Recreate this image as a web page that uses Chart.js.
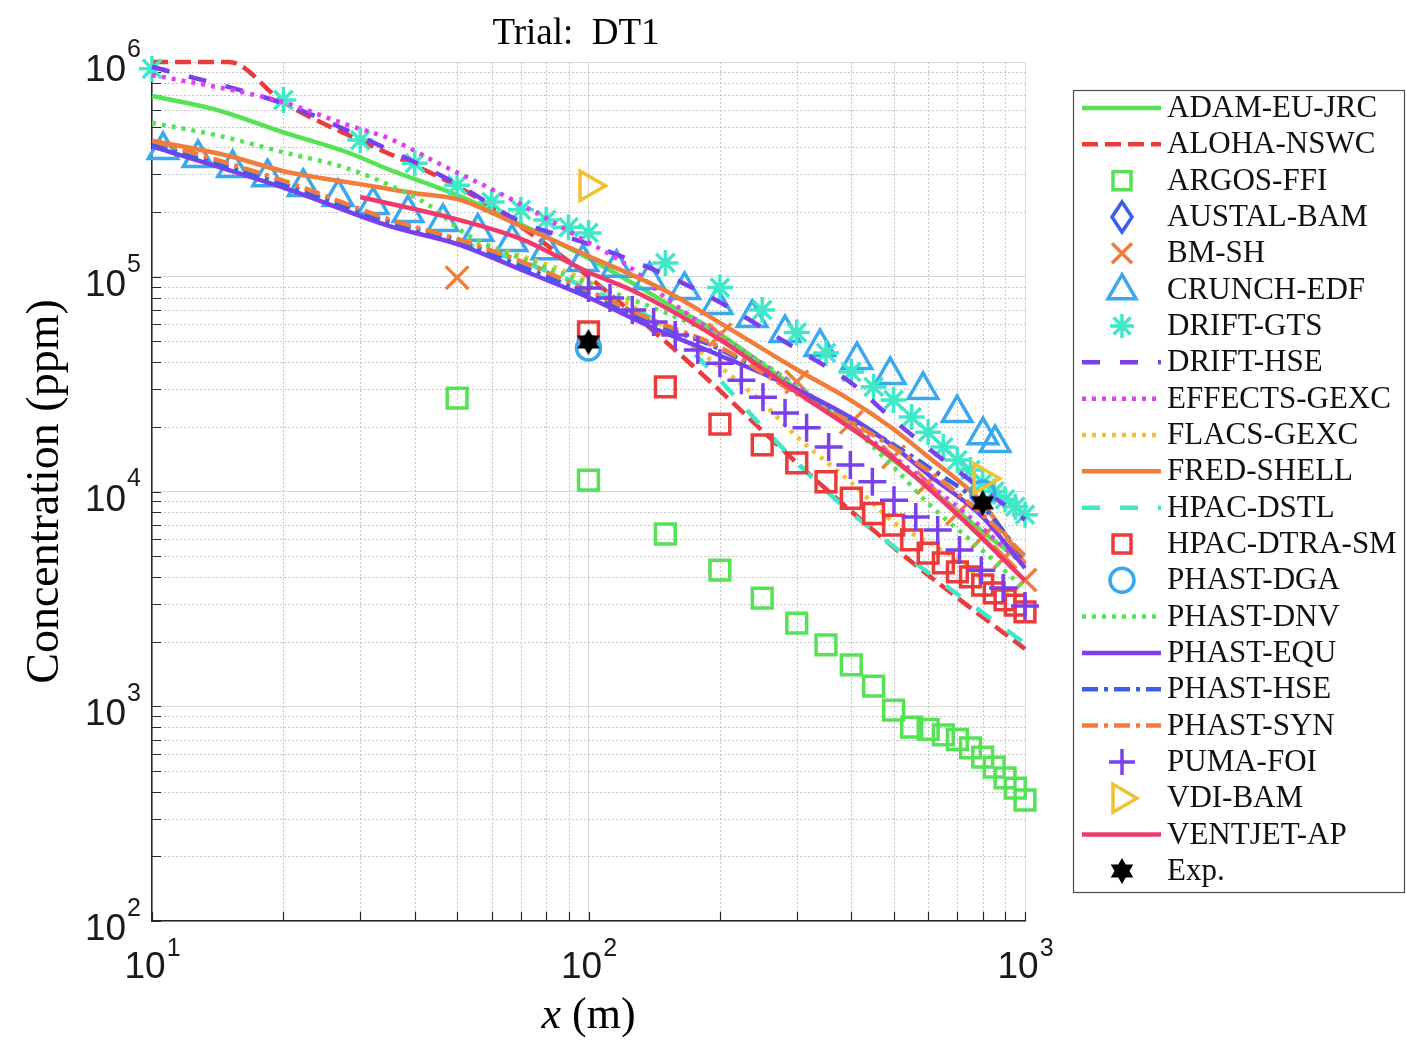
<!DOCTYPE html>
<html>
<head>
<meta charset="utf-8">
<title>Trial: DT1</title>
<script src="https://cdn.jsdelivr.net/npm/chart.js@4.4.1/dist/chart.umd.min.js"></script>
<style>
  html, body { margin: 0; padding: 0; background: #fff; }
  #wrap { width: 1406px; height: 1044px; }
</style>
</head>
<body>
<div id="wrap"><canvas id="chart" width="1406" height="1044"></canvas></div>
<script>
// axis ticks
const xMajor = [10, 100, 1000];
const yMajor = [1e2, 1e3, 1e4, 1e5, 1e6];
const xTickLabels = ['10', '10', '10'];
const xTickExp = ['1', '2', '3'];
const yTickExp = ['2', '3', '4', '5', '6'];

// series (x in m, concentration in ppm)
const adamX = [10, 14, 20, 28, 35, 50, 70, 100, 150, 200, 300, 400, 500, 600, 800, 1000];
const adamY = [6.95e5, 6.0e5, 4.7e5, 3.8e5, 3.15e5, 2.4e5, 1.75e5, 1.22e5, 7.6e4, 5.4e4, 3.0e4, 2.0e4, 1.4e4, 1.05e4, 6.5e3, 4.6e3];

const alohaX = [10, 15, 20, 30, 40, 50, 70, 100, 150, 200, 300, 500, 700, 1000];
const alohaY = [1e6, 1e6, 6.5e5, 4.3e5, 3.3e5, 2.64e5, 1.71e5, 1.0e5, 5.0e4, 2.95e4, 1.36e4, 5.5e3, 3.2e3, 1.85e3];

const argosX = [50, 100, 150, 200, 250, 300, 350, 400, 450, 500, 550, 600, 650, 700, 750, 800, 850, 900, 950, 1000];
const argosY = [2.72e4, 1.13e4, 6.34e3, 4.3e3, 3.19e3, 2.44e3, 1.93e3, 1.56e3, 1.24e3, 960, 800, 780, 735, 700, 640, 580, 521, 464, 416, 366];

const austalX = [];
const austalY = [];

const bmshX = [50, 200, 300, 400, 500, 600, 700, 800, 900, 1000];
const bmshY = [9.9e4, 5.36e4, 3.24e4, 2.1e4, 1.45e4, 1.1e4, 7.9e3, 6.14e3, 4.95e3, 3.87e3];

const crunchX = [10.6, 12.75, 15.3, 18.4, 22.2, 26.7, 32.1, 38.6, 46.4, 55.8, 66.8, 80.3, 97.1, 116, 138, 166, 197, 237, 282, 339, 412, 491, 584, 699, 801, 854];
const crunchY = [3.89e5, 3.57e5, 3.21e5, 2.91e5, 2.62e5, 2.35e5, 2.16e5, 1.98e5, 1.8e5, 1.62e5, 1.45e5, 1.33e5, 1.17e5, 1.1e5, 9.66e4, 8.68e4, 7.39e4, 6.43e4, 5.47e4, 4.71e4, 4.1e4, 3.49e4, 2.97e4, 2.32e4, 1.83e4, 1.68e4];

const driftGtsX = [10, 20, 30, 40, 50, 60, 70, 80, 90, 100, 150, 200, 250, 300, 350, 400, 450, 500, 550, 600, 650, 700, 750, 800, 850, 900, 950, 1000];
const driftGtsY = [9.3e5, 6.65e5, 4.33e5, 3.38e5, 2.67e5, 2.23e5, 2.05e5, 1.84e5, 1.7e5, 1.6e5, 1.16e5, 8.9e4, 7.0e4, 5.5e4, 4.42e4, 3.6e4, 3.07e4, 2.67e4, 2.22e4, 1.89e4, 1.61e4, 1.4e4, 1.26e4, 1.1e4, 1.0e4, 9.2e3, 8.5e3, 7.8e3];

const driftHseX = [10, 20, 30, 50, 70, 100, 150, 200, 300, 400, 500, 700, 1000];
const driftHseY = [9.5e5, 6.4e5, 4.5e5, 2.7e5, 1.8e5, 1.42e5, 1.02e5, 7.6e4, 4.6e4, 3.2e4, 2.15e4, 1.25e4, 7.4e3];

const effectsX = [10, 16, 20, 28, 35, 45, 67, 95, 125, 150, 200, 300, 500, 700, 1000];
const effectsY = [8.7e5, 7.25e5, 6.5e5, 5.1e5, 4.4e5, 3.4e5, 2.28e5, 1.53e5, 1.1e5, 8.0e4, 5.3e4, 3.1e4, 1.45e4, 8.5e3, 4.5e3];

const flacsX = [50, 70, 100, 150, 200, 250, 300, 400, 500, 600, 700, 800, 1000];
const flacsY = [1.5e5, 1.25e5, 9.5e4, 5.8e4, 3.8e4, 2.6e4, 1.8e4, 1.1e4, 7.2e3, 5.8e3, 4.8e3, 3.9e3, 3.0e3];

const fredX = [10, 15, 20, 30, 40, 50, 55, 70, 100, 150, 200, 300, 400, 500, 600, 800, 1000];
const fredY = [4.3e5, 3.65e5, 3.1e5, 2.7e5, 2.45e5, 2.3e5, 2.15e5, 1.72e5, 1.25e5, 8.6e4, 6.1e4, 3.7e4, 2.65e4, 1.95e4, 1.45e4, 8.8e3, 4.6e3];

const hpacDstlX = [50, 70, 100, 150, 200, 250, 370, 565, 1000];
const hpacDstlY = [1.45e5, 1.18e5, 8.8e4, 5.8e4, 3.3e4, 2.0e4, 9.1e3, 4.6e3, 1.96e3];

const hpacDtraX = [100, 150, 200, 250, 300, 350, 400, 450, 500, 550, 600, 650, 700, 750, 800, 850, 900, 950, 1000];
const hpacDtraY = [5.53e4, 3.07e4, 2.06e4, 1.65e4, 1.36e4, 1.11e4, 9.3e3, 7.9e3, 6.98e3, 5.95e3, 5.17e3, 4.65e3, 4.22e3, 4.0e3, 3.67e3, 3.37e3, 3.13e3, 2.96e3, 2.75e3];

const dgaX = [100, 800];
const dgaY = [4.66e4, 9.85e3];

const dnvX = [10, 14, 20, 28, 35, 43, 52, 60, 70, 100, 150, 200, 300, 400, 500, 600, 800, 1000];
const dnvY = [5.2e5, 4.57e5, 3.8e5, 3.2e5, 2.67e5, 2.16e5, 1.6e5, 1.38e5, 1.22e5, 9.3e4, 6.8e4, 5.2e4, 3.1e4, 2.0e4, 1.3e4, 8.8e3, 5.3e3, 3.5e3];

const equX = [10, 20, 35, 50, 70, 100, 140, 200, 280, 400, 500, 600, 800, 1000];
const equY = [4.05e5, 2.6e5, 1.72e5, 1.42e5, 1.08e5, 8.0e4, 5.8e4, 4.3e4, 3.2e4, 2.2e4, 1.62e4, 1.2e4, 7.6e3, 4.4e3];

const hseX = [10, 20, 35, 50, 70, 100, 140, 200, 300, 400, 500, 600, 800, 1000];
const hseY = [4.15e5, 2.7e5, 1.8e5, 1.48e5, 1.12e5, 8.3e4, 6.1e4, 4.6e4, 2.9e4, 2.15e4, 1.65e4, 1.3e4, 8.5e3, 4.8e3];

const synX = [10, 20, 35, 50, 70, 100, 140, 200, 300, 400, 500, 600, 800, 1000];
const synY = [4.3e5, 2.8e5, 1.85e5, 1.5e5, 1.18e5, 8.6e4, 6.3e4, 4.7e4, 2.85e4, 2.1e4, 1.6e4, 1.25e4, 7.8e3, 5.0e3];

const pumaX = [100, 112, 126, 141, 158, 178, 200, 224, 251, 282, 316, 355, 398, 447, 501, 562, 631, 708, 794, 891, 1000];
const pumaY = [8.87e4, 7.96e4, 7.0e4, 6.15e4, 5.35e4, 4.56e4, 3.96e4, 3.3e4, 2.75e4, 2.32e4, 1.98e4, 1.61e4, 1.33e4, 1.11e4, 9.1e3, 7.6e3, 6.62e3, 5.34e3, 4.3e3, 3.55e3, 2.93e3];

const vdiX = [100, 800];
const vdiY = [2.65e5, 1.15e4];

const ventjetX = [30, 50, 70, 100, 125, 150, 200, 300, 500, 700, 1000];
const ventjetY = [2.35e5, 1.85e5, 1.5e5, 1.05e5, 8.7e4, 7.2e4, 5.1e4, 2.9e4, 1.42e4, 7.8e3, 3.85e3];

const expX = [100, 800];
const expY = [4.97e4, 8.84e3];

// colours
const cGreen = '#55e255';
const cRed = '#ec3b3b';
const cBlue = '#3b5ee8';
const cOrange = '#f07d3c';
const cSky = '#3aa8ee';
const cTeal = '#3ee8c8';
const cPurple = '#7a40ee';
const cMagenta = '#e040f0';
const cYellow = '#f0c232';
const cPink = '#f03a6c';

const DOT = [4, 6];
const DASH = [16, 7];
const LONGDASH = [18, 20];
const DASHDOT = [16, 6, 4, 6];

const serif = '"Liberation Serif", "Times New Roman", serif';
const sans = '"Liberation Sans", Arial, sans-serif';

function pts(xs, ys) {
  return xs.map((x, i) => ({ x: x, y: ys[i] }));
}

function hexagramPath(g, cx, cy, r) {
  const ri = r / Math.sqrt(3);
  g.beginPath();
  for (let k = 0; k < 12; k++) {
    const ang = -Math.PI / 2 + k * Math.PI / 6;
    const rr = k % 2 ? ri : r;
    g.lineTo(cx + rr * Math.cos(ang), cy + rr * Math.sin(ang));
  }
  g.closePath();
}

function makeHexagram(r) {
  const c = document.createElement('canvas');
  const s = Math.ceil(r * 2 + 2);
  c.width = s; c.height = s;
  const g = c.getContext('2d');
  g.fillStyle = '#000';
  hexagramPath(g, s / 2, s / 2, r);
  g.fill();
  return c;
}
const hexImg = makeHexagram(13);

// legend order = plotting order (later ones drawn on top)
const entries = [
  { label: 'ADAM-EU-JRC', xs: adamX, ys: adamY, color: cGreen, kind: 'line', dash: [] },
  { label: 'ALOHA-NSWC', xs: alohaX, ys: alohaY, color: cRed, kind: 'line', dash: DASH },
  { label: 'ARGOS-FFI', xs: argosX, ys: argosY, color: cGreen, kind: 'rect', r: 14 },
  { label: 'AUSTAL-BAM', xs: austalX, ys: austalY, color: cBlue, kind: 'rectRot', r: 13 },
  { label: 'BM-SH', xs: bmshX, ys: bmshY, color: cOrange, kind: 'crossRot', r: 16 },
  { label: 'CRUNCH-EDF', xs: crunchX, ys: crunchY, color: cSky, kind: 'triangle', r: 17 },
  { label: 'DRIFT-GTS', xs: driftGtsX, ys: driftGtsY, color: cTeal, kind: 'star', r: 13 },
  { label: 'DRIFT-HSE', xs: driftHseX, ys: driftHseY, color: cPurple, kind: 'line', dash: LONGDASH },
  { label: 'EFFECTS-GEXC', xs: effectsX, ys: effectsY, color: cMagenta, kind: 'line', dash: DOT },
  { label: 'FLACS-GEXC', xs: flacsX, ys: flacsY, color: cYellow, kind: 'line', dash: DOT },
  { label: 'FRED-SHELL', xs: fredX, ys: fredY, color: cOrange, kind: 'line', dash: [] },
  { label: 'HPAC-DSTL', xs: hpacDstlX, ys: hpacDstlY, color: cTeal, kind: 'line', dash: LONGDASH },
  { label: 'HPAC-DTRA-SM', xs: hpacDtraX, ys: hpacDtraY, color: cRed, kind: 'rect', r: 14 },
  { label: 'PHAST-DGA', xs: dgaX, ys: dgaY, color: cSky, kind: 'circle', r: 12 },
  { label: 'PHAST-DNV', xs: dnvX, ys: dnvY, color: cGreen, kind: 'line', dash: DOT },
  { label: 'PHAST-EQU', xs: equX, ys: equY, color: cPurple, kind: 'line', dash: [] },
  { label: 'PHAST-HSE', xs: hseX, ys: hseY, color: cBlue, kind: 'line', dash: DASHDOT },
  { label: 'PHAST-SYN', xs: synX, ys: synY, color: cOrange, kind: 'line', dash: DASHDOT },
  { label: 'PUMA-FOI', xs: pumaX, ys: pumaY, color: cPurple, kind: 'cross', r: 14 },
  { label: 'VDI-BAM', xs: vdiX, ys: vdiY, color: cYellow, kind: 'triangleR', r: 17 },
  { label: 'VENTJET-AP', xs: ventjetX, ys: ventjetY, color: cPink, kind: 'line', dash: [] },
  { label: 'Exp.', xs: expX, ys: expY, color: '#000', kind: 'hexagram', r: 13 }
];

const datasets = entries.map((e, i) => {
  const base = { label: e.label, data: pts(e.xs, e.ys), order: -i, clip: false };
  if (e.kind === 'line') {
    return Object.assign(base, {
      showLine: true, borderColor: e.color, borderWidth: 4.5, borderDash: e.dash,
      borderCapStyle: 'butt', pointRadius: 0, pointHoverRadius: 0,
      cubicInterpolationMode: 'monotone', fill: false
    });
  }
  let style = e.kind, rot = 0;
  if (e.kind === 'triangleR') { style = 'triangle'; rot = 90; }
  if (e.kind === 'hexagram') { style = hexImg; }
  return Object.assign(base, {
    showLine: false, pointStyle: style, pointRotation: rot, pointRadius: e.r,
    pointBorderColor: e.color, pointBackgroundColor: 'rgba(0,0,0,0)',
    pointBorderWidth: 3.5, borderColor: e.color, backgroundColor: 'rgba(0,0,0,0)'
  });
});

function isMajor(v) {
  const l = Math.log10(v);
  return Math.abs(l - Math.round(l)) < 1e-9;
}

function withMinor(majors) {
  const out = [];
  majors.forEach((m, i) => {
    out.push(m);
    if (i < majors.length - 1) for (let k = 2; k <= 9; k++) out.push(m * k);
  });
  return out;
}
const xTicks = withMinor(xMajor);
const yTicks = withMinor(yMajor);

function drawLegendSym(ctx, e, cx, cy) {
  ctx.save();
  ctx.strokeStyle = e.color;
  ctx.fillStyle = e.color;
  ctx.lineWidth = e.kind === 'line' ? 4.5 : 3.5;
  ctx.lineCap = 'butt';
  ctx.setLineDash([]);
  ctx.beginPath();
  switch (e.kind) {
    case 'line':
      ctx.setLineDash(e.dash);
      ctx.moveTo(1082, cy); ctx.lineTo(1161, cy);
      break;
    case 'rect':
      ctx.rect(cx - 9, cy - 9, 18, 18);
      break;
    case 'rectRot':
      ctx.moveTo(cx, cy - 15); ctx.lineTo(cx + 10, cy); ctx.lineTo(cx, cy + 15); ctx.lineTo(cx - 10, cy); ctx.closePath();
      break;
    case 'crossRot':
      ctx.moveTo(cx - 10, cy - 10); ctx.lineTo(cx + 10, cy + 10);
      ctx.moveTo(cx + 10, cy - 10); ctx.lineTo(cx - 10, cy + 10);
      break;
    case 'cross':
      ctx.moveTo(cx - 13, cy); ctx.lineTo(cx + 13, cy);
      ctx.moveTo(cx, cy - 13); ctx.lineTo(cx, cy + 13);
      break;
    case 'triangle':
      ctx.moveTo(cx, cy - 15); ctx.lineTo(cx + 14, cy + 9); ctx.lineTo(cx - 14, cy + 9); ctx.closePath();
      break;
    case 'triangleR':
      ctx.moveTo(cx + 15, cy); ctx.lineTo(cx - 9, cy + 14); ctx.lineTo(cx - 9, cy - 14); ctx.closePath();
      break;
    case 'circle':
      ctx.arc(cx, cy, 12, 0, Math.PI * 2);
      break;
    case 'star':
      for (let k = 0; k < 4; k++) {
        const a = k * Math.PI / 4;
        ctx.moveTo(cx - 12 * Math.cos(a), cy - 12 * Math.sin(a));
        ctx.lineTo(cx + 12 * Math.cos(a), cy + 12 * Math.sin(a));
      }
      break;
    case 'hexagram':
      hexagramPath(ctx, cx, cy, 13);
      ctx.fill();
      ctx.restore();
      return;
  }
  ctx.stroke();
  ctx.restore();
}

const decor = {
  id: 'decor',
  beforeDatasetsDraw(chart) {
    const { ctx, chartArea: a, scales: { x, y } } = chart;
    ctx.save();
    // dotted minor grid
    ctx.strokeStyle = '#c4c4c4';
    ctx.lineWidth = 1;
    ctx.setLineDash([2, 2]);
    ctx.beginPath();
    xTicks.filter(v => !isMajor(v)).forEach(v => {
      const px = Math.round(x.getPixelForValue(v)) + 0.5;
      ctx.moveTo(px, a.top); ctx.lineTo(px, a.bottom);
    });
    yTicks.filter(v => !isMajor(v)).forEach(v => {
      const py = Math.round(y.getPixelForValue(v)) + 0.5;
      ctx.moveTo(a.left, py); ctx.lineTo(a.right, py);
    });
    ctx.stroke();
    // inward tick marks
    ctx.setLineDash([]);
    ctx.strokeStyle = '#262626';
    ctx.lineWidth = 1.2;
    ctx.beginPath();
    xTicks.forEach(v => {
      const px = Math.round(x.getPixelForValue(v)) + 0.5;
      ctx.moveTo(px, a.bottom); ctx.lineTo(px, a.bottom - 9);
    });
    yTicks.forEach(v => {
      const py = Math.round(y.getPixelForValue(v)) + 0.5;
      ctx.moveTo(a.left, py); ctx.lineTo(a.left + 9, py);
    });
    ctx.stroke();
    ctx.restore();
  },
  afterDraw(chart) {
    const { ctx, chartArea: a, scales: { x, y } } = chart;
    ctx.save();
    ctx.fillStyle = '#1a1a1a';
    ctx.textBaseline = 'middle';
    const big = '37px ' + sans;
    const small = '25px ' + sans;
    // x tick labels 10^n
    xMajor.forEach((v, i) => {
      ctx.font = big;
      const w1 = ctx.measureText(xTickLabels[i]).width;
      ctx.font = small;
      const w2 = ctx.measureText(xTickExp[i]).width;
      const px = x.getPixelForValue(v);
      const left = px - (w1 + w2) / 2;
      ctx.textAlign = 'left';
      ctx.font = big;
      ctx.fillText(xTickLabels[i], left, a.bottom + 47);
      ctx.font = small;
      ctx.fillText(xTickExp[i], left + w1 + 1, a.bottom + 28);
    });
    // y tick labels 10^n
    yMajor.forEach((v, i) => {
      const py = y.getPixelForValue(v);
      ctx.font = small;
      const w2 = ctx.measureText(yTickExp[i]).width;
      ctx.textAlign = 'right';
      ctx.fillText(yTickExp[i], 141, py - 12);
      ctx.font = big;
      ctx.fillText('10', 141 - w2 - 1, py + 9);
    });
    // title
    ctx.fillStyle = '#000';
    ctx.textAlign = 'center';
    ctx.font = '37px ' + serif;
    ctx.fillText('Trial:  DT1', 576, 34);
    // x axis title with italic x
    const it = 'italic 44px ' + serif;
    const rm = '44px ' + serif;
    ctx.font = it;
    const wx = ctx.measureText('x').width;
    ctx.font = rm;
    const wr = ctx.measureText(' (m)').width;
    const cx = (a.left + a.right) / 2;
    const l0 = cx - (wx + wr) / 2;
    ctx.textAlign = 'left';
    ctx.font = it;
    ctx.fillText('x', l0, 1016);
    ctx.font = rm;
    ctx.fillText(' (m)', l0 + wx, 1016);
    // legend
    ctx.fillStyle = '#fff';
    ctx.fillRect(1073, 90, 331, 803);
    ctx.strokeStyle = '#4d4d4d';
    ctx.lineWidth = 1.2;
    ctx.strokeRect(1073.5, 90.5, 331, 802);
    ctx.font = '31px ' + serif;
    entries.forEach((e, i) => {
      const ry = 108 + i * 36.33;
      drawLegendSym(ctx, e, 1122, ry);
      ctx.fillStyle = '#111';
      ctx.textAlign = 'left';
      ctx.fillText(e.label, 1167, ry + 1);
    });
    ctx.restore();
  }
};

new Chart(document.getElementById('chart'), {
  type: 'scatter',
  data: { datasets: datasets },
  options: {
    responsive: false,
    animation: false,
    events: [],
    layout: { padding: { left: 0, top: 62, right: 381, bottom: 0 } },
    plugins: { legend: { display: false }, tooltip: { enabled: false }, title: { display: false } },
    scales: {
      x: {
        type: 'logarithmic',
        min: 10, max: 1000,
        afterFit: s => { s.height = 123; },
        afterBuildTicks: s => { s.ticks = xTicks.map(v => ({ value: v, major: isMajor(v) })); },
        ticks: { display: false, autoSkip: false },
        grid: {
          drawTicks: false,
          lineWidth: 1,
          color: c => (c.tick && isMajor(c.tick.value)) ? '#dadada' : 'rgba(0,0,0,0)'
        },
        border: { color: '#262626', width: 1.5 }
      },
      y: {
        type: 'logarithmic',
        min: 100, max: 1e6,
        afterFit: s => { s.width = 152; },
        afterBuildTicks: s => { s.ticks = yTicks.map(v => ({ value: v, major: isMajor(v) })); },
        ticks: { display: false, autoSkip: false },
        grid: {
          drawTicks: false,
          lineWidth: 1,
          color: c => (c.tick && isMajor(c.tick.value)) ? '#dadada' : 'rgba(0,0,0,0)'
        },
        border: { color: '#262626', width: 1.5 },
        title: {
          display: true,
          text: 'Concentration (ppm)',
          color: '#000',
          font: { family: serif, size: 46 },
          padding: { top: 18, bottom: 0 }
        }
      }
    }
  },
  plugins: [decor]
});
</script>
</body>
</html>
